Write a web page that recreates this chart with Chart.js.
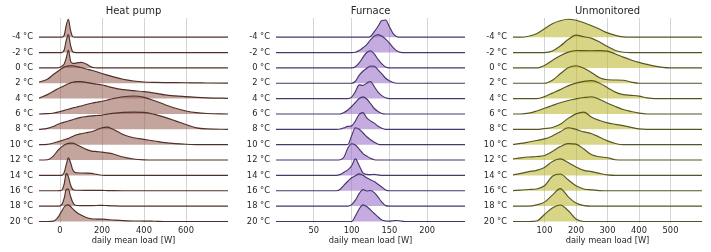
<!DOCTYPE html>
<html>
<head>
<meta charset="utf-8">
<script src="https://cdn.jsdelivr.net/npm/chart.js@4.4.0/dist/chart.umd.min.js"></script>
<style>
  body { margin: 0; background: #fff; }
  .panel { position: absolute; top: 0; width: 237px; height: 252px; }
</style>
</head>
<body>
<div class="panel" style="left:0"><canvas id="hp"></canvas></div>
<div class="panel" style="left:237px"><canvas id="fu"></canvas></div>
<div class="panel" style="left:474px"><canvas id="un"></canvas></div>
<script>
// outdoor temperature bins, top ridge first
var temps = ['-4 °C', '-2 °C', '0 °C', '2 °C', '4 °C', '6 °C', '8 °C',
             '10 °C', '12 °C', '14 °C', '16 °C', '18 °C', '20 °C'];

// ridge heights are in density units, ROW_STEP of them make one row
var ROW_STEP = 15.4;

// heat pump
var hpLoad = [-100, -60, -30, -10, 0, 10, 20, 30, 40, 50, 60, 70, 80, 100, 125, 150, 175, 200, 225, 250, 300, 350, 400, 450, 500, 550, 600, 650, 700, 800];
var hpDensity = [
  [0,0,0,0,0,0.1,2,12,18,7,0.6,0,0,0,0,0,0,0,0,0,0,0,0,0,0,0,0,0,0,0],
  [0,0,0,0,0,0.2,2.5,12.5,18,7.5,1,0.2,0,0,0,0,0,0,0,0,0,0,0,0,0,0,0,0,0,0],
  [0,0,0,0,0.7,2,4,10,18,7,4.5,4.5,5,5.5,4,0.8,0.1,0,0,0,0,0,0,0,0,0,0,0,0,0],
  [1.2,4,9,12,13.5,15,16.2,17,17.5,17.6,17.6,17.3,16.8,15.8,14.3,13,11.5,9.8,8.2,6.7,4,2.3,1.3,0.9,0.7,0.6,0.5,0.4,0.3,0.1],
  [0.5,4,7.5,10,11,12,13,14,15,15.8,16.4,16.8,17,17,16.3,15.3,14.5,13.7,12.4,11,9,8,7,5.5,3.7,2.7,2,1.3,0.8,0.3],
  [0,0.3,1,1.8,2.4,3,3.6,4.2,4.8,5.4,6,6.5,7,8,9.5,10.8,11.8,12.7,14,15.3,17.3,18,16.7,13.3,9.3,5.7,3,1.3,0.5,0],
  [0,1,3,5,5.8,6.5,7.2,7.8,8.4,9,9.6,10.3,11,12,12.8,13.5,13.9,14.3,15.2,16,17,17.2,17,15,12,8.5,4.8,1.5,0.4,0],
  [0,0.3,1.7,3,3.7,4.3,5,5.7,6.3,7.3,8.3,9.2,10,11,12,13,15,17,17.6,15.7,10.3,7,5.3,3.7,2,1,0.4,0.1,0,0],
  [0,0.3,4.5,9.7,11.7,13.7,15,16,16.7,17,17,16.3,15.3,13.3,10.7,9,8.5,8,7.2,6.3,3,1,0.2,0,0,0,0,0,0,0],
  [0,0,0,0,0,0.3,3,11,17.5,13,6,3.2,2.6,2.4,2.3,2,1,0.2,0,0,0,0,0,0,0,0,0,0,0,0],
  [0,0,0,0,0.1,1,7,17.4,14,6,1.5,0.7,0.5,0.5,0.4,0.4,0.4,0.4,0.2,0.1,0,0,0,0,0,0,0,0,0,0],
  [0,0,0,0,0.2,2,8,16.8,17.2,10,4,1.2,0.6,0.5,0.5,0.5,0.6,0.8,0.5,0.3,0,0,0,0,0,0,0,0,0,0],
  [0,0,0.3,4,7.5,11,14.5,16.5,16.7,15,12.8,10.7,9,6.5,4,2.7,2.4,2.3,1.9,1.5,0.8,0.5,0.4,0.2,0,0,0,0,0,0]
];
var hpTicks = [0, 200, 400, 600];

// furnace
var fuLoad = [0, 75, 80, 85, 90, 95, 100, 105, 110, 115, 120, 125, 130, 135, 140, 145, 150, 155, 160, 165, 170, 180, 250];
var fuDensity = [
  [0,0,0,0,0,0,0,0,0,0,0,0.8,5.5,11,16.8,17.2,10.5,3.5,0.5,0,0,0,0],
  [0,0,0,0,0,0,0,0.3,2,4.8,8,12.7,16.5,18,16.5,13.5,9.5,5,1.5,0.2,0,0,0],
  [0,0,0,0,0,0,0,1.2,5,10.5,15.5,17.2,14,8.5,4,0.8,0,0,0,0,0,0,0],
  [0,0,0,0,0,0,0,2,8,12,15,17.3,17,13.5,9.5,5,2.5,0.8,0,0,0,0,0],
  [0,0,0,0,0,0,1.5,7,13.8,13.2,15.5,17.2,12,6.5,3,0.8,0,0,0,0,0,0,0],
  [0,0,0,0,1.5,4,7.5,11.5,15.5,17.2,15,10.5,5.5,2.5,0.5,0,0,0,0,0,0,0,0],
  [0,0,0,0.3,1.5,3,3.5,8.3,15,16.8,11.5,8.5,6.2,3,1,0,0,0,0,0,0,0,0],
  [0,0,0,0,0,0.2,9,17,15.5,12,8,5,2.5,0.5,0,0,0,0,0,0,0,0,0],
  [0,0,0,0.3,3,12,16.3,15,11,6.5,4,1.7,0.3,0,0,0,0,0,0,0,0,0,0],
  [0,0,0,1,3.2,5.5,9.5,16.5,10,2.5,1,0.8,1,0.5,0,0,0,0,0,0,0,0,0],
  [0,0,0,1.5,5.7,9.5,13,15,17,15.5,13,11,9.2,6.5,3.7,0.8,0,0,0,0,0,0,0],
  [0,0,0,0,0,0,1.5,6,12.5,16.7,15.2,15.7,13.5,9,4,0.5,0,0,0,0,0,0,0],
  [0,0,0,0,0,0,0,5.5,12.5,16.7,15,11.7,8,4.5,1.5,0.5,0.3,0.7,1,0.5,0,0,0]
];
var fuTicks = [50, 100, 150, 200];

// unmonitored
var unLoad = [0, 25, 50, 75, 100, 125, 150, 175, 200, 225, 250, 275, 300, 325, 350, 375, 400, 425, 450, 475, 500, 600];
var unDensity = [
  [0,0,1,3.5,8.5,13.5,16.5,18,17,14.5,11.5,8,4.3,1.8,0.3,0,0,0,0,0,0,0],
  [0,0,0,0,0,1.5,6.5,13,17.5,15.8,14.2,10.5,6,2,0.3,0,0,0,0,0,0,0],
  [0,0,0,0,2.5,7.5,12.3,15.8,17.5,17.3,17.2,17.4,16.8,14,10.8,8,5.5,3.5,1.8,0.5,0,0],
  [0,0,0,0,0,3,9.5,15.5,17.6,15,10.5,5.5,3.5,3.3,3,1.2,0,0,0,0,0,0],
  [0,0,0,0,2,5.5,9,12.8,15.5,17.3,18,15.5,11,6.5,4,3.3,2.5,0.8,0,0,0,0],
  [0,0,0.8,3,5.7,8.5,11.2,13.5,15.2,16.5,17.3,14.5,10.8,7.5,4.5,2.5,0.8,0,0,0,0,0],
  [0,0,0,0,0.8,1.8,5,11,15.5,17.2,12,8.8,6.5,5,3.7,2,0.4,0,0,0,0,0],
  [0.3,1.3,2.7,4.2,5.8,8.8,13,17,15.3,12.8,11,7.5,3.8,1.2,0,0,0,0,0,0,0,0],
  [1.2,2.2,3,3.5,4.5,8.5,13.5,16.5,16,11,5.2,3.3,2.3,0.3,0,0,0,0,0,0,0,0],
  [0.5,2,3.8,5,8,14,16.5,13,8.5,5,3.8,2,0.5,0,0,0,0,0,0,0,0,0],
  [0.2,0.7,1.3,1.8,5,14.5,16.8,11,5,1.8,0.9,0.2,0,0,0,0,0,0,0,0,0,0],
  [0,0,0,1.2,4,11,17.5,9.5,3,0.5,0,0,0,0,0,0,0,0,0,0,0,0],
  [0,0,0,0.5,7,13.5,16.5,11,2.5,0,0,0,0,0,0,0,0,0,0,0,0,0]
];
var unTicks = [100, 200, 300, 400, 500];

Chart.defaults.font.family = 'DejaVu Sans';
Chart.defaults.color = '#262626';

function ridgeChart(id, title, load, rows, ticks, xmin, xmax, fillColor, lineColor) {
  var n = temps.length;
  var datasets = rows.map(function (row, i) {
    var base = n - 1 - i;
    return {
      label: temps[i],
      data: load.map(function (x, j) { return { x: x, y: base + row[j] / ROW_STEP }; }),
      fill: { value: base },
      backgroundColor: fillColor,
      borderColor: lineColor,
      borderWidth: 1.15,
      pointRadius: 0,
      cubicInterpolationMode: 'monotone',
      order: n - 1 - i
    };
  });

  new Chart(document.getElementById(id), {
    type: 'line',
    data: { datasets: datasets },
    options: {
      animation: false,
      responsive: true,
      maintainAspectRatio: false,
      layout: { padding: { right: 9 } },
      plugins: {
        legend: { display: false },
        tooltip: { enabled: false },
        title: {
          display: true,
          text: title,
          fullSize: false,
          font: { size: 10, weight: 'normal' },
          padding: { top: 5, bottom: 1 }
        }
      },
      scales: {
        x: {
          type: 'linear',
          min: xmin,
          max: xmax,
          afterBuildTicks: function (s) { s.ticks = ticks.map(function (v) { return { value: v }; }); },
          afterFit: function (s) { s.height = 29; },
          grid: { color: 'rgba(0,0,0,0.17)', drawTicks: false },
          border: { display: false },
          ticks: { padding: 3, autoSkip: false, maxRotation: 0, font: { size: 8.3 } },
          title: {
            display: true,
            text: 'daily mean load [W]',
            font: { size: 8.3 },
            padding: { top: 0, bottom: 6.5 }
          }
        },
        y: {
          type: 'linear',
          min: -0.1,
          max: 13.25,
          afterBuildTicks: function (s) {
            s.ticks = temps.map(function (t, i) { return { value: i }; });
          },
          afterFit: function (s) { s.width = 39; },
          grid: { display: false, drawTicks: false },
          border: { display: false },
          ticks: {
            padding: 6,
            font: { size: 8.3 },
            callback: function (v) { return temps[n - 1 - v]; }
          }
        }
      }
    }
  });
}

ridgeChart('hp', 'Heat pump', hpLoad, hpDensity, hpTicks, -100, 800,
  'rgba(148,91,79,0.55)', 'rgb(80,48,42)');
ridgeChart('fu', 'Furnace', fuLoad, fuDensity, fuTicks, 0, 250,
  'rgba(148,104,199,0.55)', 'rgb(72,54,108)');
ridgeChart('un', 'Unmonitored', unLoad, unDensity, unTicks, 0, 600,
  'rgba(184,180,35,0.55)', 'rgb(86,86,36)');
</script>
</body>
</html>
